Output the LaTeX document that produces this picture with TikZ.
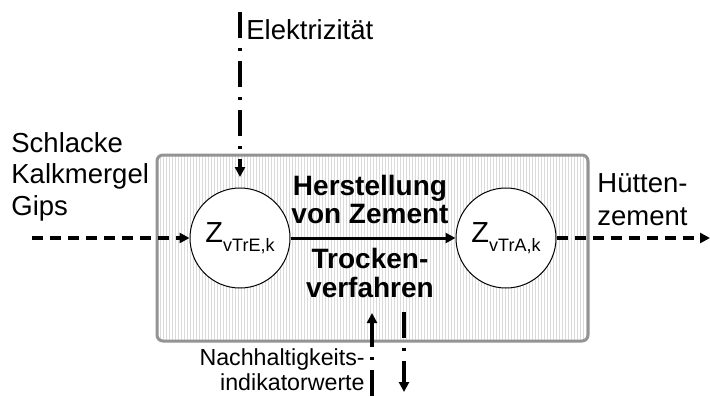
\documentclass[tikz,border=0pt]{standalone}
\usepackage{fontspec}
\setmainfont{Liberation Sans}
\usepackage{tikz}
\usetikzlibrary{arrows.meta,calc}
\tikzstyle{anlage} = [rectangle, rounded corners=3pt, draw=gray!85, line width=1.5pt, minimum width=215.5pt, minimum height=93pt, fill=white,
  path picture={\foreach \i in {0,...,145} \draw[gray!28, line width=0.45pt] ([xshift=\i*1.5pt]path picture bounding box.south west) -- ++(0,100pt);}]
\tikzstyle{zustand} = [circle, draw=black, line width=0.5pt, fill=white, minimum size=50pt, inner sep=0pt]
\tikzstyle{haupt} = [line width=1.5pt, -{Triangle[length=5pt,width=5pt]}]
\tikzstyle{strom} = [line width=1.6pt, dash pattern=on 5.5pt off 3.5pt, -{Triangle[length=5pt,width=5pt]}]
\tikzstyle{info} = [line width=1.6pt, dash pattern=on 13pt off 5pt on 1.5pt off 5pt, -{Triangle[length=5pt,width=5pt]}]
\tikzstyle{beschrift} = [inner sep=0pt, font=\fontsize{13.75}{15.75}\selectfont]
\newcommand{\zsub}[1]{Z\raisebox{-0.55ex}{\fontsize{9}{9}\selectfont #1}}

\begin{document}
\begin{tikzpicture}[x=0.5pt, y=-0.5pt]

    \useasboundingbox (0,0) rectangle (710,396);

    \node (anlage) [anlage] at (372.5,248) {};

    \node (zE) [zustand] at (240,238) {\fontsize{14.5}{15}\selectfont\zsub{vTrE,k}};
    \node (zA) [zustand] at (506,238) {\fontsize{14.5}{15}\selectfont\zsub{vTrA,k}};

    % Grundlinie der letzten Zeile
    \node (titel) [beschrift, align=center, anchor=base, font=\fontsize{14}{14}\selectfont\bfseries] at (370,223) {Herstellung\\von Zement};
    \node (verfahren) [beschrift, align=center, anchor=base, font=\fontsize{14}{14.5}\selectfont\bfseries] at (370,297) {Trocken-\\verfahren};

    \node (rohstoffe) [beschrift, align=left, anchor=base west] at (11,215) {Schlacke\\Kalkmergel\\Gips};
    \node (produkt) [beschrift, align=left, anchor=base west, font=\fontsize{13.75}{16.5}\selectfont] at (597,225) {Hütten-\\zement};
    \node (elektrizitaet) [beschrift, anchor=base west] at (246,39) {Elektrizität};
    \node (indikatoren) [beschrift, align=right, anchor=base east, font=\fontsize{11.6}{12.5}\selectfont] at (365,390) {Nachhaltigkeits-\\indikatorwerte};

    \coordinate (einStart) at (32,238);
    \coordinate (ausEnde) at (710,238);
    \coordinate (elekStart) at (240,12);
    \coordinate (elekEnde) at (240,177);
    \coordinate (nhUnten) at (372,396);
    \coordinate (nhOben) at (372,313);
    \coordinate (nhStart) at (404,312);
    \coordinate (nhEnde) at (404,392);

    \draw[haupt] (zE) -- (zA);
    \draw[strom] (einStart) -- (zE);
    \draw[strom] (zA) -- (ausEnde);
    \draw[info] (elekStart) -- (elekEnde);
    \draw[info] (nhUnten) -- (nhOben);
    \draw[info] (nhStart) -- (nhEnde);

\end{tikzpicture}
\end{document}
